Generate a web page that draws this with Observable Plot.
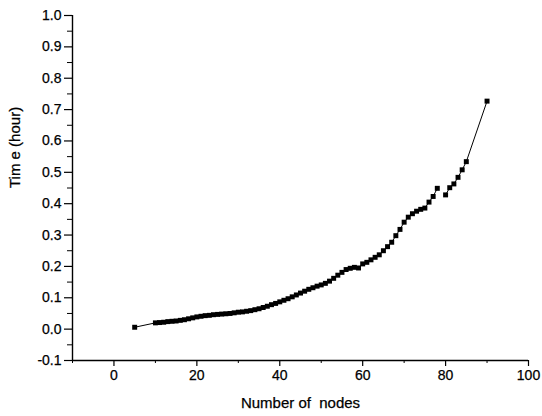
<!DOCTYPE html>
<html>
<head>
<meta charset="utf-8">
<script src="https://cdn.jsdelivr.net/npm/d3@7"></script>
<script src="https://cdn.jsdelivr.net/npm/@observablehq/plot@0.6"></script>
<style>
  html, body { margin: 0; padding: 0; background: #fff; }
  #chart svg { display: block; }
  #chart svg text { stroke: #000; stroke-width: 0.25px; }
</style>
</head>
<body>
<div id="chart"></div>
<script>
const nodes = [5, 10, 11, 12, 13, 14, 15, 16, 17, 18, 19, 20, 21, 22, 23, 24, 25, 26, 27, 28, 29,
  30, 31, 32, 33, 34, 35, 36, 37, 38, 39, 40, 41, 42, 43, 44, 45, 46, 47, 48, 49,
  50, 51, 52, 53, 54, 55, 56, 57, 58, 59, 60, 61, 62, 63, 64, 65, 66, 67, 68, 69,
  70, 71, 72, 73, 74, 75, 76, 77, 78, 80, 81, 82, 83, 84, 85, 90];
const hours = [0.006, 0.020, 0.021, 0.022, 0.024, 0.025, 0.026, 0.028, 0.030, 0.033, 0.036,
  0.039, 0.041, 0.043, 0.044, 0.046, 0.047, 0.048, 0.049, 0.050, 0.052,
  0.054, 0.055, 0.057, 0.059, 0.062, 0.065, 0.069, 0.073, 0.078, 0.082,
  0.087, 0.092, 0.097, 0.103, 0.109, 0.115, 0.121, 0.127, 0.132, 0.137,
  0.141, 0.146, 0.153, 0.162, 0.172, 0.181, 0.190, 0.194, 0.197, 0.195,
  0.208, 0.213, 0.221, 0.229, 0.237, 0.250, 0.263, 0.277, 0.298, 0.318,
  0.341, 0.357, 0.368, 0.376, 0.382, 0.386, 0.405, 0.423, 0.449,
  0.428, 0.451, 0.463, 0.484, 0.508, 0.534, 0.727];
const xMajorTicks = [0, 20, 40, 60, 80, 100];
const xMinorTicks = [-10, 10, 30, 50, 70, 90];
const yMajorTicks = [-0.1, 0.0, 0.1, 0.2, 0.3, 0.4, 0.5, 0.6, 0.7, 0.8, 0.9, 1.0];
const yMinorTicks = [-0.05, 0.05, 0.15, 0.25, 0.35, 0.45, 0.55, 0.65, 0.75, 0.85, 0.95];
const xTitle = "Number of  nodes";
const yTitle = "Tim e (hour)";
const breakAfter = 78; // the plotted line is not joined between 78 and 80

const data = nodes.map((n, i) => ({n, h: hours[i]}));

const chart = Plot.plot({
  width: 542,
  height: 416,
  marginLeft: 72,
  marginRight: 14,
  marginTop: 15,
  marginBottom: 56,
  style: {fontFamily: "'Liberation Sans', Arial, sans-serif", fontSize: "14px", color: "#000", background: "#fff"},
  x: {domain: [-10, 100]},
  y: {domain: [-0.1, 1.0]},
  marks: [
    Plot.ruleX([-10], {stroke: "#000", strokeWidth: 1.4}),
    Plot.ruleY([-0.1], {stroke: "#000", strokeWidth: 1.4}),
    Plot.axisX({ticks: xMajorTicks, tickSize: 6, tickPadding: 4, tickFormat: d => String(d), fontSize: 14, label: null, strokeWidth: 1.2}),
    Plot.axisX({ticks: xMinorTicks, tickSize: 3, tickFormat: () => "", label: null}),
    Plot.axisY({ticks: yMajorTicks, tickSize: 8, tickPadding: 3, tickFormat: d => d.toFixed(1), fontSize: 14, label: null, strokeWidth: 1.2}),
    Plot.axisY({ticks: yMinorTicks, tickSize: 5, tickFormat: () => "", label: null}),
    Plot.text([xTitle], {frameAnchor: "bottom", dy: 47, fontSize: 15, text: d => d}),
    Plot.text([yTitle], {frameAnchor: "left", dx: -57, rotate: -90, fontSize: 15, text: d => d}),
    Plot.line(data, {x: "n", y: "h", z: d => d.n > breakAfter, stroke: "#000", strokeWidth: 1}),
    Plot.dot(data, {x: "n", y: "h", symbol: "square", r: 2.8, fill: "#000", stroke: "none"})
  ]
});
document.getElementById("chart").appendChild(chart);
</script>
</body>
</html>
